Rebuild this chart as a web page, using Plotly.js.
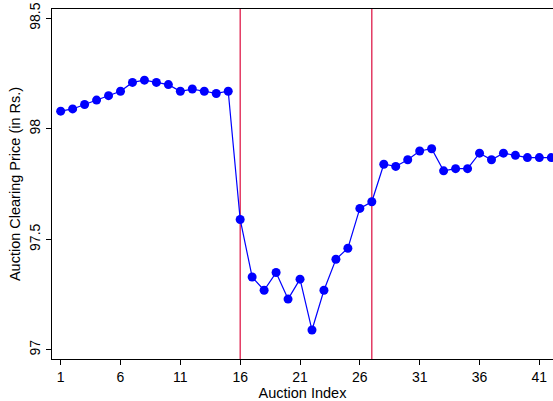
<!DOCTYPE html>
<html>
<head>
<meta charset="utf-8">
<script src="https://cdn.plot.ly/plotly-3.0.1.min.js"></script>
<style>html,body{margin:0;padding:0;background:#fff;}#chart{width:553px;height:401px;}</style>
</head>
<body>
<div id="chart"></div>
<script>
const auctionIndex = [1,2,3,4,5,6,7,8,9,10,11,12,13,14,15,16,17,18,19,20,21,22,23,24,25,26,27,28,29,30,31,32,33,34,35,36,37,38,39,40,41,42];
const clearingPrice = [98.08,98.09,98.11,98.13,98.15,98.17,98.21,98.22,98.21,98.20,98.17,98.18,98.17,98.16,98.17,
  97.59,97.33,97.27,97.35,97.23,97.32,97.09,97.27,97.41,97.46,97.64,97.67,
  97.84,97.83,97.86,97.90,97.91,97.81,97.82,97.82,97.89,97.86,97.89,97.88,97.87,97.87,97.87];
const breakPoints = [16, 27];
const xTicks = [1,6,11,16,21,26,31,36,41];
const yTicks = [97, 97.5, 98, 98.5];
const yTickLabels = ['97','97.5','98','98.5'];

const trace = {
  x: auctionIndex, y: clearingPrice, type: 'scatter', mode: 'lines+markers',
  line: {color: '#0000ff', width: 1.2},
  marker: {color: '#0000ff', size: 9},
  cliponaxis: true, hoverinfo: 'skip'
};
const shapes = breakPoints.map(b => ({
  type: 'line', xref: 'x', yref: 'paper', x0: b, x1: b, y0: 0, y1: 1,
  line: {color: '#dc0a3c', width: 1.2}, layer: 'below'
}));
const layout = {
  width: 553, height: 401,
  margin: {l: 52, r: 0, t: 9, b: 42},
  paper_bgcolor: '#fff', plot_bgcolor: '#fff',
  font: {family: 'Liberation Sans, Arial, sans-serif', size: 14, color: '#000'},
  showlegend: false,
  shapes: shapes,
  xaxis: {
    range: [0.275, 42.14], tickvals: xTicks, ticks: 'outside', ticklen: 5, tickwidth: 1, tickcolor: '#000',
    showline: true, linecolor: '#000', linewidth: 1.2, mirror: true, showgrid: false, zeroline: false,
    tickfont: {size: 14},
    title: {text: 'Auction Index', font: {size: 14.5}, standoff: 1}
  },
  yaxis: {
    range: [96.959, 98.542], tickvals: yTicks, ticktext: yTickLabels, tickangle: -90,
    ticks: 'outside', ticklen: 5, tickwidth: 1, tickcolor: '#000',
    showline: true, linecolor: '#000', linewidth: 1.2, showgrid: false, zeroline: false,
    tickfont: {size: 14},
    title: {text: 'Auction Clearing Price (in Rs.)', font: {size: 14.5}, standoff: 3}
  }
};
Plotly.newPlot('chart', [trace], layout, {displayModeBar: false, staticPlot: true});
</script>
</body>
</html>
